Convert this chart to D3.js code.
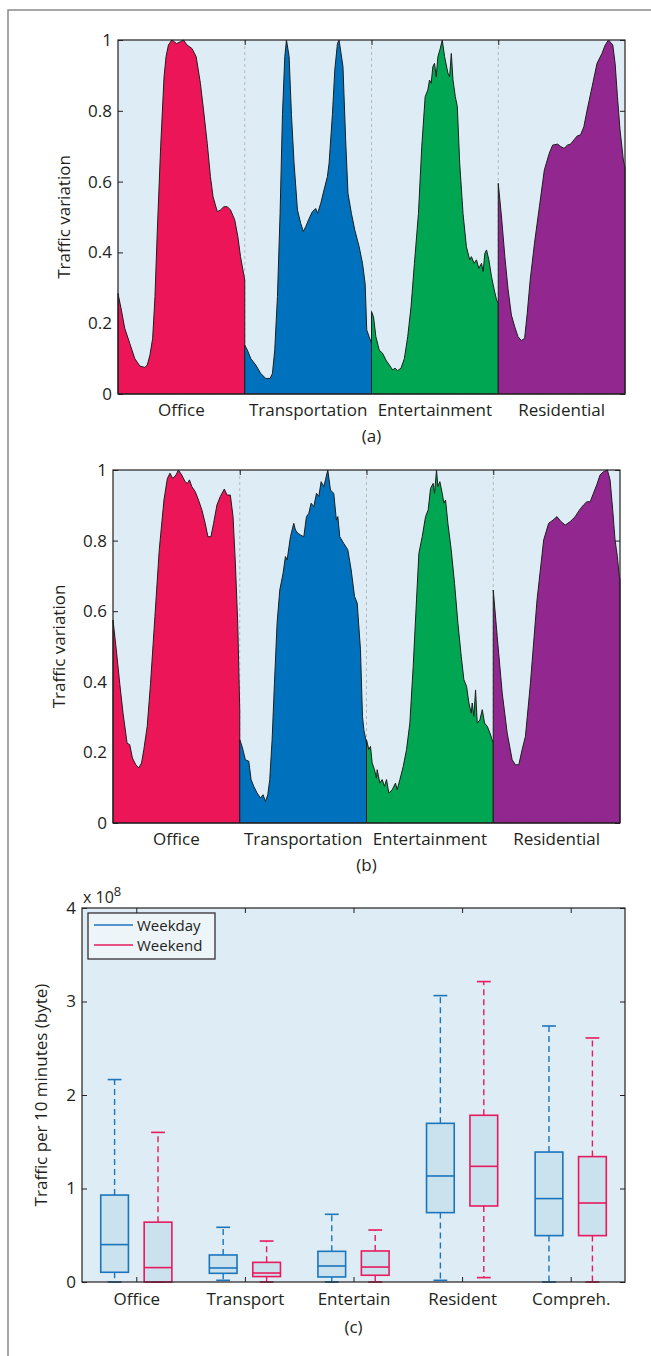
<!DOCTYPE html>
<html>
<head>
<meta charset="utf-8">
<title>Traffic variation by area type</title>
<script src="https://d3js.org/d3.v7.min.js"></script>
<style>
  body { margin:0; background:#fff; }
  text { font-family: 'Open Sans', sans-serif; fill:#231f20; }
  .tick text { font-size:17px; fill:#231f20; }
  .tick line { stroke:#231f20; }
  .frame { fill:none; stroke:#231f20; stroke-width:1.2; }
  .area { stroke:#1e1e1e; stroke-width:1; stroke-linejoin:round; }
  .sep { stroke:#b8b8b8; stroke-width:1; stroke-dasharray:3,3; }
  .cat, .ylab, .tag { font-size:17px; text-anchor:middle; }
  .legend text { font-size:15px; }
</style>
</head>
<body>
<script>
// ---- data ----------------------------------------------------------------
// (a) / (b): [hour of day, normalised traffic]
var categories = ["Office", "Transportation", "Entertainment", "Residential"];
var areaColours = ["#ec1558", "#0071bc", "#00a651", "#92278f"];
var profileTicks = [0, 0.2, 0.4, 0.6, 0.8, 1];

var aOffice = [[0,0.284],[0.64,0.237],[1.27,0.186],[2.23,0.143],[3.18,0.10],[4.14,0.079],[5.09,0.075],[5.54,0.082],[6.05,0.11],[6.56,0.157],[7.0,0.275],[7.45,0.463],[8.08,0.70],[8.72,0.896],[9.1,0.953],[9.55,0.986],[10.2,1.0],[11.1,0.99],[11.8,0.995],[12.4,1.0],[13.05,0.986],[14.0,0.976],[14.8,0.953],[15.6,0.878],[16.2,0.802],[16.9,0.708],[17.5,0.614],[18.0,0.557],[18.8,0.515],[19.4,0.520],[20.05,0.529],[20.7,0.529],[21.3,0.520],[22.1,0.492],[22.7,0.444],[23.2,0.388],[24,0.322]];
var aTransport = [[0,0.138],[0.5,0.124],[1.14,0.10],[2.08,0.082],[3.03,0.058],[3.98,0.044],[4.8,0.044],[5.24,0.058],[5.68,0.124],[6.19,0.275],[6.69,0.51],[7.14,0.79],[7.58,0.953],[7.9,1.0],[8.4,0.953],[8.84,0.79],[9.34,0.652],[9.98,0.52],[10.6,0.482],[11.1,0.459],[11.55,0.473],[12.2,0.496],[12.8,0.515],[13.45,0.524],[13.77,0.51],[14.4,0.539],[15.0,0.576],[15.65,0.614],[15.97,0.652],[16.6,0.79],[17.05,0.915],[17.55,0.99],[17.86,1.0],[18.6,0.925],[19.1,0.72],[19.55,0.567],[20.2,0.51],[20.84,0.463],[21.66,0.416],[22.3,0.369],[22.8,0.311],[23.1,0.181],[23.55,0.162],[24,0.143]];
var aEntertain = [[0,0.233],[0.38,0.218],[0.83,0.162],[1.46,0.124],[2.1,0.115],[2.73,0.096],[3.37,0.082],[4.0,0.068],[4.44,0.073],[4.95,0.066],[5.59,0.073],[6.22,0.10],[6.86,0.162],[7.49,0.247],[8.13,0.369],[8.89,0.51],[9.52,0.699],[10.16,0.84],[10.67,0.859],[10.98,0.887],[11.3,0.878],[11.62,0.925],[11.94,0.934],[12.25,0.896],[12.57,0.953],[12.95,0.972],[13.4,1.0],[13.84,0.953],[14.48,0.906],[14.79,0.896],[15.11,0.962],[15.43,0.887],[15.87,0.84],[16.25,0.812],[16.7,0.652],[17.33,0.51],[17.97,0.416],[18.6,0.379],[18.92,0.388],[19.43,0.369],[19.87,0.379],[20.32,0.355],[20.83,0.369],[21.14,0.346],[21.46,0.397],[21.78,0.407],[22.22,0.379],[22.73,0.331],[23.24,0.294],[23.68,0.266],[24,0.256]];
var aResident = [[0,0.595],[0.62,0.50],[1.25,0.388],[1.87,0.294],[2.49,0.223],[3.12,0.19],[3.74,0.162],[4.36,0.151],[4.99,0.157],[5.49,0.228],[6.05,0.322],[6.86,0.426],[7.79,0.529],[8.73,0.633],[9.66,0.68],[10.29,0.703],[11.22,0.706],[11.84,0.699],[12.47,0.694],[13.09,0.703],[13.71,0.706],[14.34,0.718],[14.96,0.729],[15.58,0.732],[16.21,0.755],[16.83,0.802],[17.77,0.868],[18.7,0.934],[19.64,0.962],[20.26,0.986],[20.88,1.0],[21.69,0.986],[22.13,0.934],[22.57,0.84],[23.06,0.746],[23.69,0.661],[24,0.64]];

var bOffice = [[0,0.575],[0.63,0.49],[1.27,0.396],[1.9,0.311],[2.67,0.226],[3.17,0.222],[3.68,0.184],[4.32,0.165],[4.89,0.156],[5.4,0.17],[5.84,0.208],[6.48,0.274],[7.11,0.396],[7.94,0.585],[8.76,0.774],[9.65,0.915],[10.29,0.976],[10.79,0.991],[11.3,0.976],[11.94,0.986],[12.38,1.0],[13.02,0.986],[13.65,0.967],[14.1,0.962],[14.48,0.972],[14.92,0.953],[15.56,0.939],[16.19,0.915],[16.83,0.887],[17.46,0.849],[17.97,0.811],[18.54,0.811],[19.05,0.849],[19.68,0.901],[20.32,0.925],[21.08,0.946],[21.59,0.929],[22.22,0.929],[22.73,0.868],[23.17,0.736],[23.62,0.566],[24,0.32]];
var bTransport = [[0,0.236],[0.44,0.217],[1.07,0.179],[1.71,0.175],[2.15,0.123],[2.65,0.104],[3.28,0.085],[3.92,0.071],[4.42,0.08],[4.86,0.061],[5.31,0.08],[5.68,0.123],[6.13,0.236],[6.57,0.396],[7.07,0.566],[7.58,0.66],[8.21,0.708],[8.65,0.755],[8.97,0.745],[9.6,0.811],[10.23,0.849],[10.55,0.83],[10.99,0.821],[11.49,0.816],[12.13,0.811],[12.63,0.868],[13.07,0.877],[13.52,0.906],[14.02,0.896],[14.53,0.934],[14.97,0.925],[15.41,0.967],[15.92,0.953],[16.23,0.972],[16.67,1.0],[17.18,0.943],[17.8,0.934],[18.3,0.858],[18.57,0.868],[18.94,0.811],[19.7,0.792],[20.46,0.774],[21.1,0.717],[21.73,0.642],[22.24,0.623],[22.86,0.491],[23.24,0.302],[23.5,0.264],[24,0.226]];
var bEntertain = [[0,0.236],[0.44,0.208],[0.76,0.217],[1.07,0.17],[1.52,0.151],[1.89,0.127],[2.02,0.151],[2.53,0.113],[2.97,0.123],[3.41,0.104],[3.79,0.123],[4.23,0.085],[4.86,0.094],[5.49,0.113],[5.81,0.094],[6.32,0.123],[6.95,0.16],[7.58,0.208],[8.21,0.283],[8.84,0.443],[9.47,0.632],[9.92,0.764],[10.55,0.811],[11.18,0.868],[11.68,0.887],[12.13,0.948],[12.63,0.962],[12.88,0.934],[13.26,1.0],[13.52,0.953],[13.89,0.967],[14.34,0.934],[14.65,0.906],[14.97,0.915],[15.41,0.849],[16.04,0.774],[16.67,0.679],[17.31,0.566],[17.94,0.472],[18.44,0.406],[18.95,0.387],[19.39,0.34],[19.83,0.311],[20.02,0.34],[20.34,0.302],[20.65,0.377],[20.97,0.283],[21.47,0.292],[21.92,0.321],[22.36,0.283],[22.86,0.274],[23.37,0.255],[24,0.226]];
var bResident = [[0,0.66],[0.75,0.528],[1.7,0.368],[2.64,0.255],[3.58,0.179],[4.2,0.165],[4.84,0.165],[5.47,0.208],[6.09,0.245],[7.04,0.396],[8.29,0.632],[9.55,0.802],[10.49,0.849],[11.31,0.858],[12.06,0.868],[12.82,0.854],[13.63,0.844],[14.58,0.854],[15.52,0.868],[16.34,0.887],[17.09,0.901],[17.72,0.91],[18.35,0.91],[18.97,0.934],[19.6,0.958],[20.23,0.986],[20.86,0.995],[21.61,1.0],[22.12,0.972],[22.62,0.887],[23.06,0.802],[23.5,0.755],[23.87,0.698],[24,0.69]];

// (c): box statistics in units of 1e8 bytes  [min, q1, median, q3, max]
var boxCategories = ["Office", "Transport", "Entertain", "Resident", "Compreh."];
var boxTicks = [0, 1, 2, 3, 4];
var weekday = [[0,0.104,0.40,0.93,2.165],[0.018,0.093,0.15,0.289,0.585],[0,0.054,0.171,0.328,0.724],[0.018,0.742,1.134,1.697,3.063],[0,0.496,0.892,1.39,2.738]];
var weekend = [[0,0,0.154,0.64,1.60],[0,0.058,0.096,0.21,0.438],[0,0.072,0.16,0.332,0.556],[0.047,0.813,1.237,1.783,3.213],[0,0.496,0.845,1.341,2.61]];
var seriesNames = ["Weekday", "Weekend"];
var seriesColours = ["#1b75bc", "#e8195e"];

// ---- page ----------------------------------------------------------------
var svg = d3.select("body").append("svg")
    .attr("width", 651)
    .attr("height", 1356);

svg.append("path")
    .attr("d", "M8,1356V10H651")
    .attr("fill", "none")
    .attr("stroke", "#8a8a8a")
    .attr("stroke-width", 1.5);

function drawProfile(box, series, tag) {
  var x = d3.scaleLinear().domain([0, 96]).range([box.left, box.right]);
  var y = d3.scaleLinear().domain([0, 1]).range([box.bottom, box.top]);
  var g = svg.append("g");

  g.append("rect")
      .attr("x", box.left).attr("y", box.top)
      .attr("width", box.right - box.left).attr("height", box.bottom - box.top)
      .attr("fill", "#deedf5");

  var yl = g.append("g")
      .attr("transform", "translate(" + box.left + ",0)")
      .call(d3.axisLeft(y).tickValues(profileTicks).tickFormat(d3.format("~g")).tickSize(-5).tickPadding(6));
  yl.select(".domain").remove();
  var yr = g.append("g")
      .attr("transform", "translate(" + box.right + ",0)")
      .call(d3.axisRight(y).tickValues(profileTicks).tickFormat("").tickSize(-5));
  yr.select(".domain").remove();

  g.append("g").selectAll("line")
    .data([24, 48, 72])
    .enter().append("line")
      .attr("class", "sep")
      .attr("x1", d => x(d)).attr("x2", d => x(d))
      .attr("y1", box.top).attr("y2", box.bottom);

  series.forEach(function(s, i) {
    var area = d3.area()
        .x(d => x(i * 24 + d[0]))
        .y0(y(0))
        .y1(d => y(d[1]));
    g.append("path")
        .datum(s)
        .attr("class", "area")
        .attr("fill", areaColours[i])
        .attr("d", area(s) + "Z");
  });

  var xt = g.append("g")
      .attr("transform", "translate(0," + box.top + ")")
      .call(d3.axisTop(x).tickValues([24, 48, 72]).tickFormat("").tickSize(-5));
  xt.select(".domain").remove();

  g.append("rect")
      .attr("class", "frame")
      .attr("x", box.left).attr("y", box.top)
      .attr("width", box.right - box.left).attr("height", box.bottom - box.top);

  g.append("g").selectAll("text")
    .data(categories)
    .enter().append("text")
      .attr("class", "cat")
      .attr("x", (d, i) => x(i * 24 + 12))
      .attr("y", box.bottom + 22)
      .text(d => d);

  g.append("text")
      .attr("class", "ylab")
      .attr("transform", "translate(" + (box.left - 48) + "," + ((box.top + box.bottom) / 2) + ") rotate(-90)")
      .text("Traffic variation");

  g.append("text")
      .attr("class", "tag")
      .attr("x", (box.left + box.right) / 2)
      .attr("y", box.bottom + 48)
      .text(tag);
}

drawProfile({left: 118, right: 625, top: 40, bottom: 394}, [aOffice, aTransport, aEntertain, aResident], "(a)");
drawProfile({left: 113, right: 620, top: 470, bottom: 823}, [bOffice, bTransport, bEntertain, bResident], "(b)");

// ---- (c) box plot ---------------------------------------------------------
var cBox = {left: 82, right: 625, top: 908, bottom: 1282};
var cx = d3.scaleLinear().domain([0.5, 5.5]).range([cBox.left, cBox.right]);
var cy = d3.scaleLinear().domain([0, 4]).range([cBox.bottom, cBox.top]);
var gc = svg.append("g");

gc.append("rect")
    .attr("x", cBox.left).attr("y", cBox.top)
    .attr("width", cBox.right - cBox.left).attr("height", cBox.bottom - cBox.top)
    .attr("fill", "#deedf5");

var cyl = gc.append("g")
    .attr("transform", "translate(" + cBox.left + ",0)")
    .call(d3.axisLeft(cy).tickValues(boxTicks).tickFormat(d3.format("~g")).tickSize(-5).tickPadding(6));
cyl.select(".domain").remove();
var cyr = gc.append("g")
    .attr("transform", "translate(" + cBox.right + ",0)")
    .call(d3.axisRight(cy).tickValues(boxTicks).tickFormat("").tickSize(-5));
cyr.select(".domain").remove();
var cxb = gc.append("g")
    .attr("transform", "translate(0," + cBox.bottom + ")")
    .call(d3.axisBottom(cx).tickValues([1, 2, 3, 4, 5]).tickFormat((d, i) => boxCategories[i]).tickSize(-5).tickPadding(11));
cxb.select(".domain").remove();
var cxt = gc.append("g")
    .attr("transform", "translate(0," + cBox.top + ")")
    .call(d3.axisTop(cx).tickValues([1, 2, 3, 4, 5]).tickFormat("").tickSize(-5));
cxt.select(".domain").remove();

var boxW = 0.255, offset = 0.2;
[weekday, weekend].forEach(function(stats, s) {
  var col = seriesColours[s];
  var grp = gc.append("g").selectAll("g")
    .data(stats)
    .enter().append("g");
  var cxOf = (d, i) => cx(i + 1 + (s === 0 ? -offset : offset));
  var half = (cx(boxW) - cx(0)) / 2;

  // whiskers
  grp.append("line")
      .attr("x1", cxOf).attr("x2", cxOf)
      .attr("y1", d => cy(d[3])).attr("y2", d => cy(d[4]))
      .attr("stroke", col).attr("stroke-width", 1.4).attr("stroke-dasharray", "6,4");
  grp.append("line")
      .attr("x1", cxOf).attr("x2", cxOf)
      .attr("y1", d => cy(d[1])).attr("y2", d => cy(d[0]))
      .attr("stroke", col).attr("stroke-width", 1.4).attr("stroke-dasharray", "6,4");
  // caps
  [0, 4].forEach(function(k) {
    grp.append("line")
        .attr("x1", (d, i) => cxOf(d, i) - half / 2).attr("x2", (d, i) => cxOf(d, i) + half / 2)
        .attr("y1", d => cy(d[k])).attr("y2", d => cy(d[k]))
        .attr("stroke", col).attr("stroke-width", 1.6);
  });
  // box
  grp.append("rect")
      .attr("x", (d, i) => cxOf(d, i) - half)
      .attr("y", d => cy(d[3]))
      .attr("width", half * 2)
      .attr("height", d => cy(d[1]) - cy(d[3]))
      .attr("fill", "#cae1ee")
      .attr("stroke", col).attr("stroke-width", 1.6);
  // median
  grp.append("line")
      .attr("x1", (d, i) => cxOf(d, i) - half).attr("x2", (d, i) => cxOf(d, i) + half)
      .attr("y1", d => cy(d[2])).attr("y2", d => cy(d[2]))
      .attr("stroke", col).attr("stroke-width", 1.6);
});

gc.append("rect")
    .attr("class", "frame")
    .attr("x", cBox.left).attr("y", cBox.top)
    .attr("width", cBox.right - cBox.left).attr("height", cBox.bottom - cBox.top);

var expo = gc.append("text")
    .attr("x", cBox.left + 1)
    .attr("y", cBox.top - 5)
    .style("font-size", "16px");
expo.append("tspan").text("x 10");
expo.append("tspan").attr("dy", -7).style("font-size", "13px").text("8");

gc.append("text")
    .attr("class", "ylab")
    .attr("transform", "translate(" + (cBox.left - 35) + "," + ((cBox.top + cBox.bottom) / 2) + ") rotate(-90)")
    .text("Traffic per 10 minutes (byte)");

gc.append("text")
    .attr("class", "tag")
    .attr("x", (cBox.left + cBox.right) / 2)
    .attr("y", 1333)
    .text("(c)");

// legend
var legend = gc.append("g").attr("class", "legend");
legend.append("rect")
    .attr("x", 88).attr("y", 913)
    .attr("width", 127).attr("height", 46)
    .attr("fill", "#eef5f9")
    .attr("stroke", "#231f20").attr("stroke-width", 1.2);
seriesNames.forEach(function(name, i) {
  var ly = 925 + i * 20;
  legend.append("line")
      .attr("x1", 94).attr("x2", 133)
      .attr("y1", ly).attr("y2", ly)
      .attr("stroke", seriesColours[i]).attr("stroke-width", 1.5);
  legend.append("text")
      .attr("x", 137)
      .attr("y", ly + 5.5)
      .text(name);
});
</script>
</body>
</html>
